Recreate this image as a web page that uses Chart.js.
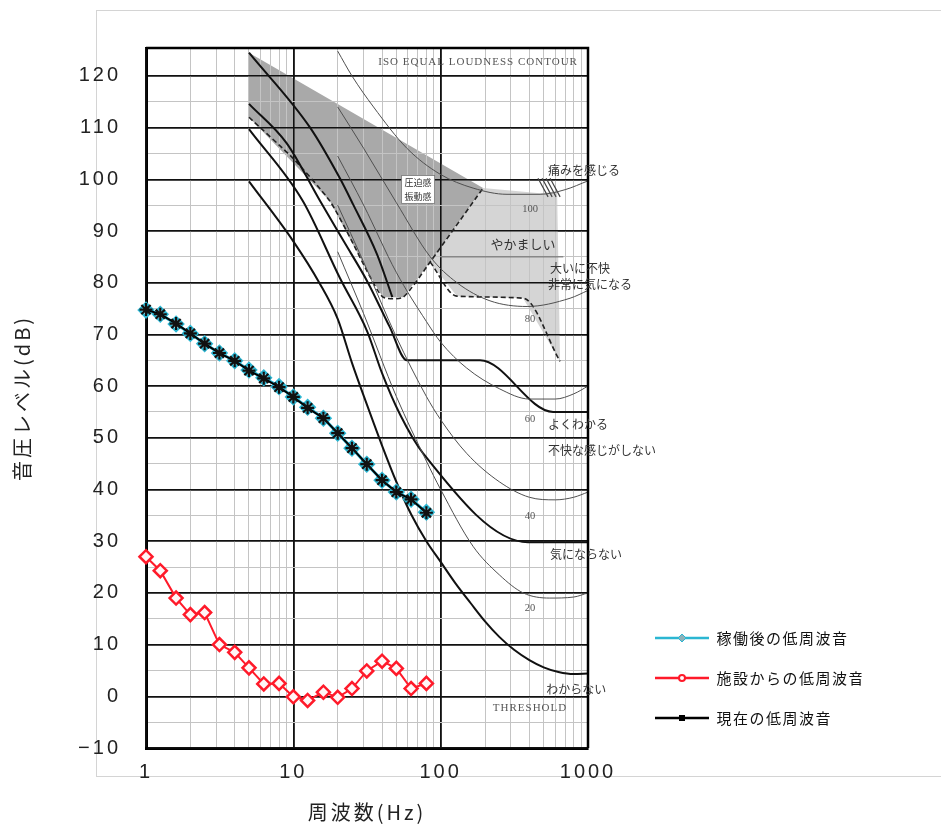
<!DOCTYPE html>
<html><head><meta charset="utf-8">
<script src="https://cdn.jsdelivr.net/npm/chart.js@4.4.1/dist/chart.umd.min.js"></script>
<style>html,body{margin:0;padding:0;background:#fff;}canvas{display:block;}</style>
</head><body>
<canvas id="c" width="941" height="828"></canvas>
<script>
// ---------- data ----------
const freqBands = [1,1.25,1.6,2,2.5,3.15,4,5,6.3,8,10,12.5,16,20,25,31.5,40,50,63,80];
const afterOperation = [74.7,73.9,72.0,70.2,68.2,66.4,64.9,63.1,61.6,59.9,57.9,55.9,53.8,50.9,48.0,44.9,41.8,39.5,38.1,35.6];
const fromFacility   = [27.0,24.3,19.0,15.8,16.2,10.0,8.5,5.5,2.4,2.5,-0.1,-0.8,0.8,-0.2,1.5,4.9,6.8,5.4,1.5,2.5];
const currentLevel   = [74.8,73.9,72.1,70.2,68.2,66.4,64.9,63.0,61.5,59.8,57.9,55.8,53.8,50.9,48.0,44.9,41.8,39.5,38.1,35.5];
const seriesNames = ['稼働後の低周波音','施設からの低周波音','現在の低周波音'];

const xGridValues = [1,2,3,4,5,6,7,8,9,10,20,30,40,50,60,70,80,90,100,200,300,400,500,600,700,800,900,1000];
const xTickLabels = {1:'1',10:'10',100:'100',1000:'1000'};
const yGridValues = [-10,-5,0,5,10,15,20,25,30,35,40,45,50,55,60,65,70,75,80,85,90,95,100,105,110,115,120];
const yTickLabels = {'-10':'\u221210',0:'0',10:'10',20:'20',30:'30',40:'40',50:'50',60:'60',70:'70',80:'80',90:'90',100:'100',110:'110',120:'120'};

// background reference figure: ISO equal loudness contours [Hz, dB]
const iso100 = [[20,124.8],[25,120],[35,114],[59,106],[99,101],[166,98.3],[282,97.1],[473,97.1],[700,98],[1000,99.7]];
const iso80  = [[20,114],[30,106],[50,95.5],[85,85],[129,80],[216,76.5],[386,75.4],[756,77],[1000,78.5]];
const iso60  = [[20,104.5],[30,95],[50,82],[80,72.5],[100,68.5],[150,63.5],[250,59.5],[400,57.5],[600,57.5],[800,58.5],[1000,60]];
const iso40  = [[20,95],[30,84],[50,69.5],[80,58],[100,53.5],[150,47],[250,41.5],[400,38.5],[600,38],[800,38.5],[1000,39.5]];
const iso20  = [[20,86],[30,74],[50,58],[80,45.5],[100,40],[166,29],[250,23.5],[363,20],[550,19],[800,19.2],[1000,20]];
const threshold = [[5,99.6],[10,88],[15,80],[20,73],[25,64.5],[31.5,56.5],[40,48.5],[50,41.5],[63,35.2],[80,30],[100,26],[125,22],[160,18],[200,14.5],[250,11.5],[315,9],[400,7],[500,5.6],[630,4.7],[800,4.3],[1000,4.4]];
// psychological response lines [Hz, dB]
const lineClearlyFelt = [[5,114.6],[9,107],[15.2,95.8],[22,88],[31.7,80.3],[45,71.5],[59,65],[185,65],[580,55],[1000,55]];
const lineNotBothered = [[5,109.7],[11.6,95.8],[20.7,80.9],[31.7,70.6],[40,62.5],[53,54.5],[76,47],[392,29.8],[1000,29.8]];
const linePressureTop = [[5,124.5],[13,110],[20.7,100.2],[25.4,95.2],[37,85.5],[47,77.2]];
const lineNoisy = [[99,85],[680,85]];
const pressureBoundary = [[5,112],[10,104],[17.7,95.8],[25,88],[31.7,82.2],[40.6,77.2],[55.6,77.2],[84.8,84],[194,98.3]];
const annoyanceBoundary = [[84.8,84],[129,77.4],[363,77],[646,64.8]];
const pressureRegion = [[5,124.5],[194,98.3],[84.8,84],[55.6,77.2],[40.6,77.2],[31.7,82.2],[17.7,95.8],[5,112]];
const annoyanceRegion = [[194,98.3],[473,97.3],[617,97.7],[646,64.8],[363,77],[129,77.4],[84.8,84]];
const painHatch = [[458,100.2,536,96.6],[488,100.2,571,96.6],[520,100.2,607,96.6],[553,100.2,647,96.6]];

// texts of the background figure
const figureTexts = ['ISO EQUAL LOUDNESS CONTOUR','痛みを感じる','100','圧迫感','振動感','やかましい','大いに不快','非常に気になる','80','60','よくわかる','不快な感じがしない','40','気にならない','20','わからない','THRESHOLD'];
// placement of those texts (Hz, dB, align, style)
const figureTextPlacement = [
  [179.5,122.6,'center','serifL'],[536,101.8,'left','jp'],[404,94.2,'center','serif'],
  [70.3,99.4,'center','jpS'],[70.3,96.7,'center','jpS'],[362,87.4,'center','jpM'],
  [553,82.7,'left','jp'],[536,79.6,'left','jp'],[404,72.9,'center','serif'],[404,53.5,'center','serif'],
  [536,52.6,'left','jp'],[536,47.5,'left','jp'],[404,34.9,'center','serif'],[553,27.4,'left','jp'],
  [404,17.1,'center','serif'],[520,1.4,'left','jp'],[404,-2.3,'center','serifL']
];

// ---------- build ----------
const pts = arr => arr.map(([x,y]) => ({x, y}));
function bgLine(data, opt){
  return Object.assign({data: pts(data), borderColor:'#505050', borderWidth:1, pointRadius:0, fill:false, tension:0.35, cubicInterpolationMode:'monotone', order:10}, opt);
}
const hatchData = [];
painHatch.forEach(s => { hatchData.push({x:s[0],y:s[1]},{x:s[2],y:s[3]},{x:s[2],y:null}); });

function legendIcon(color, marker){
  const c = document.createElement('canvas'); c.width = 54; c.height = 14;
  const g = c.getContext('2d');
  g.strokeStyle = color; g.lineWidth = 2.5; g.beginPath(); g.moveTo(0,7); g.lineTo(54,7); g.stroke();
  if (marker === 'diamond') { g.fillStyle = '#8fb0b8'; g.beginPath(); g.moveTo(27,3); g.lineTo(31,7); g.lineTo(27,11); g.lineTo(23,7); g.closePath(); g.fill(); g.strokeStyle=color; g.lineWidth=1; g.stroke(); }
  if (marker === 'ring') { g.fillStyle = '#fff'; g.strokeStyle = color; g.lineWidth = 2; g.beginPath(); g.arc(27,7,3,0,Math.PI*2); g.fill(); g.stroke(); }
  if (marker === 'square') { g.fillStyle = '#000'; g.fillRect(24,4,6,6); }
  return c;
}
const legendIcons = [legendIcon('#2bb6d2','diamond'), legendIcon('#ff1a2a','ring'), legendIcon('#000','square')];

const datasets = [
  {label: seriesNames[0], data: freqBands.map((f,i)=>({x:f, y:afterOperation[i]})), borderColor:'#2bb6d2', backgroundColor:'rgba(43,182,210,0.35)',
   pointStyle:'rectRot', pointRadius:7, pointBorderWidth:2.5, pointBorderColor:'#2bb6d2', borderWidth:3, order:1, clip:false, isSeries:true, rank:0, tension:0},
  {label: seriesNames[1], data: freqBands.map((f,i)=>({x:f, y:fromFacility[i]})), borderColor:'#ff1a2a', backgroundColor:'#fff4f4',
   pointStyle:'rectRot', pointRadius:6.5, pointBorderWidth:2.5, pointBorderColor:'#ff1a2a', pointBackgroundColor:'#fff6f6', borderWidth:2, order:2, clip:false, isSeries:true, rank:1, tension:0},
  {label: seriesNames[2], data: freqBands.map((f,i)=>({x:f, y:currentLevel[i]})), borderColor:'#000', backgroundColor:'#000',
   pointStyle:'star', pointRadius:6.5, pointBorderWidth:2.2, pointBorderColor:'#111', borderWidth:2, order:0, clip:false, isSeries:true, rank:2, tension:0},

  {label:'region1', data: pts(pressureRegion), borderWidth:0, pointRadius:0, fill:'shape', backgroundColor:'#a9a9a9', order:21, tension:0},
  {label:'region2', data: pts(annoyanceRegion), borderWidth:0, pointRadius:0, fill:'shape', backgroundColor:'#d5d5d5', order:20, tension:0, regrid:true},

  bgLine(iso100,{label:'iso100'}), bgLine(iso80,{label:'iso80'}), bgLine(iso60,{label:'iso60'}),
  bgLine(iso40,{label:'iso40'}), bgLine(iso20,{label:'iso20'}),
  bgLine(threshold,{label:'threshold', borderColor:'#111', borderWidth:2}),
  bgLine(lineClearlyFelt,{label:'r1', borderColor:'#111', borderWidth:2}),
  bgLine(lineNotBothered,{label:'r2', borderColor:'#111', borderWidth:2}),
  bgLine(linePressureTop,{label:'r3', borderColor:'#111', borderWidth:2}),
  bgLine(lineNoisy,{label:'r4', borderColor:'#666', borderWidth:1, tension:0}),
  bgLine(pressureBoundary,{label:'b1', borderColor:'#222', borderWidth:1.6, borderDash:[5,3], tension:0.2, cubicInterpolationMode:'default'}),
  bgLine(annoyanceBoundary,{label:'b2', borderColor:'#222', borderWidth:1.6, borderDash:[5,3], tension:0}),
  {label:'hatch', data: hatchData, borderColor:'#444', borderWidth:1.2, pointRadius:0, fill:false, spanGaps:false, order:10, tension:0}
];

const figurePlugin = {
  id:'figure',
  beforeDraw(chart){
    const c = chart.ctx;
    c.save(); c.fillStyle = '#fff'; c.fillRect(0,0,chart.width,chart.height);
    c.strokeStyle = '#d4d4d4'; c.lineWidth = 1; c.strokeRect(96.5,10.5,900,766); c.restore();
    const lg = chart.legend;
    if (lg && !lg._patched) {
      const orig = lg.draw.bind(lg);
      lg.draw = function(a){ const p = c.letterSpacing; c.letterSpacing = '1.5px'; orig(a); c.letterSpacing = p; };
      lg._patched = true;
    }
    c.letterSpacing = '3px';
  },
  afterLayout(chart){
    const lg = chart.legend; if (!lg) return;
    const w = lg.width, h = lg.height;
    lg.left = 630; lg.top = 605.5; lg.right = 630 + w; lg.bottom = 605.5 + h;
  },
  beforeDatasetsDraw(chart){ chart.ctx.letterSpacing = '0px'; },
  afterDatasetDraw(chart, args){
    if (chart.data.datasets[args.index].regrid) {
      chart.scales.x.drawGrid(chart.chartArea); chart.scales.y.drawGrid(chart.chartArea);
    }
  },
  afterDatasetsDraw(chart){
    const c = chart.ctx, xs = chart.scales.x, ys = chart.scales.y, a = chart.chartArea;
    c.save();
    c.strokeStyle = '#000'; c.lineWidth = 2.5;
    c.beginPath(); c.moveTo(a.left, a.top); c.lineTo(a.right, a.top); c.lineTo(a.right, a.bottom); c.stroke();
    const fonts = {serif:'10.5px "Liberation Serif"', serifL:'11px "Liberation Serif"', jp:'12px "Noto Sans CJK JP"', jpM:'13px "Noto Sans CJK JP"', jpS:'9px "Noto Sans CJK JP"'};
    // one white box behind the two-line "圧迫感 / 振動感" label
    const bi = figureTextPlacement.findIndex(p => p[3] === 'jpS');
    if (bi >= 0) {
      c.font = fonts.jpS; c.letterSpacing = '0px';
      const w = c.measureText(figureTexts[bi]).width;
      const bx = xs.getPixelForValue(figureTextPlacement[bi][0]);
      const y1 = ys.getPixelForValue(figureTextPlacement[bi][1]), y2 = ys.getPixelForValue(figureTextPlacement[bi+1][1]);
      c.fillStyle = '#fff'; c.fillRect(bx - w/2 - 3, y1 - 7, w + 6, y2 - y1 + 14);
      c.strokeStyle = '#777'; c.lineWidth = 0.8; c.strokeRect(bx - w/2 - 3, y1 - 7, w + 6, y2 - y1 + 14);
    }
    figureTexts.forEach((t,i) => {
      const [f, db, align, st] = figureTextPlacement[i];
      const x = xs.getPixelForValue(f), y = ys.getPixelForValue(db);
      c.font = fonts[st]; c.textAlign = align; c.textBaseline = 'middle';
      c.letterSpacing = st === 'serifL' ? '1px' : '0px';
      c.fillStyle = st.startsWith('serif') ? '#555' : '#333';
      c.fillText(t, x, y);
    });
    c.restore();
  }
};

new Chart(document.getElementById('c'), {
  type:'line',
  data:{datasets},
  plugins:[figurePlugin],
  options:{
    responsive:false, animation:false, events:[], devicePixelRatio:1,
    layout:{padding:{top:48, right:353, left:0, bottom:0}},
    plugins:{
      tooltip:{enabled:false},
      legend:{
        position:'chartArea', align:'start',
        labels:{
          usePointStyle:true, pointStyleWidth:54, padding:25, color:'#111',
          font:{size:15, family:'"Noto Sans CJK JP"'},
          filter:(item, data) => !!data.datasets[item.datasetIndex].isSeries,
          sort:(a, b, data) => data.datasets[a.datasetIndex].rank - data.datasets[b.datasetIndex].rank,
          generateLabels:(chart) => Chart.defaults.plugins.legend.labels.generateLabels(chart).map(l => {
            const ds = chart.data.datasets[l.datasetIndex];
            if (ds.isSeries) l.pointStyle = legendIcons[ds.rank];
            return l;
          })
        }
      }
    },
    scales:{
      x:{
        type:'logarithmic', min:1, max:1000,
        afterBuildTicks:(s) => { s.ticks = xGridValues.map(v => ({value:v})); },
        afterFit:(s) => { s.height = 80; },
        ticks:{autoSkip:false, maxRotation:0, padding:12, color:'#222', font:{size:20, family:'"Liberation Sans"'},
               callback:(v) => xTickLabels[v] || ''},
        grid:{drawTicks:false, color:(ctx) => (ctx.tick && xTickLabels[ctx.tick.value]) ? '#111' : '#c4c4c4',
              lineWidth:(ctx) => (ctx.tick && xTickLabels[ctx.tick.value]) ? 1.6 : 1},
        border:{display:true, color:'#000', width:3},
        title:{display:true, text:'周波数(Hz)', color:'#222', font:{size:20, family:'"Noto Sans CJK JP"'}, padding:{top:0, bottom:4}}
      },
      y:{
        type:'linear', min:-10, max:125.4,
        afterBuildTicks:(s) => { s.ticks = yGridValues.map(v => ({value:v})); },
        afterFit:(s) => { s.width = 146; },
        ticks:{autoSkip:false, padding:25, color:'#222', font:{size:20, family:'"Liberation Sans"'},
               callback:(v) => yTickLabels[v] || ''},
        grid:{drawTicks:false, color:(ctx) => (ctx.tick && ctx.tick.value % 10 === 0) ? '#111' : '#c4c4c4',
              lineWidth:(ctx) => (ctx.tick && ctx.tick.value % 10 === 0) ? 1.6 : 1},
        border:{display:true, color:'#000', width:3},
        title:{display:true, text:'音圧レベル(dB)', color:'#222', font:{size:20, family:'"Noto Sans CJK JP"'}, padding:{top:10, bottom:0}}
      }
    }
  }
});
</script>
</body></html>
